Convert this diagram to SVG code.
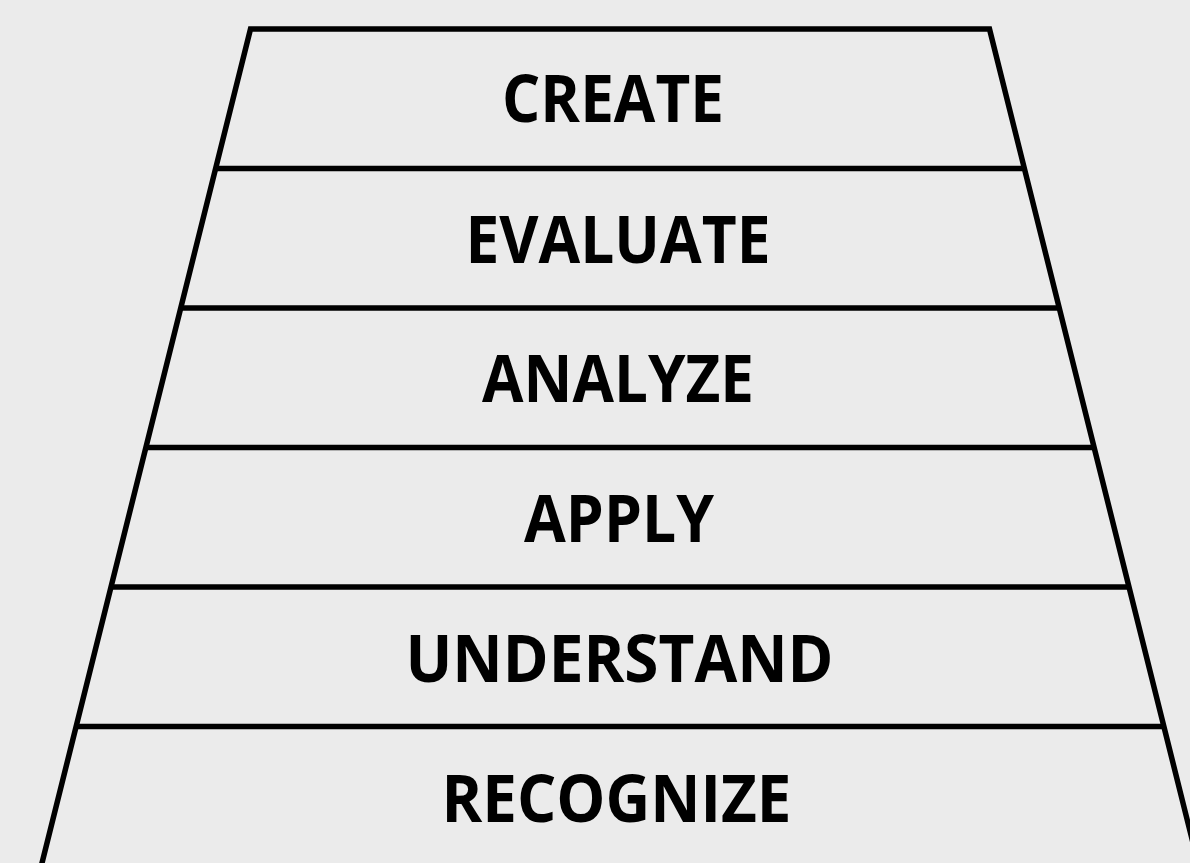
<svg xmlns="http://www.w3.org/2000/svg" width="1190" height="863" viewBox="0 0 1190 863">
  <style>
    .edge { stroke: #000000; stroke-width: 5.5; fill: none; stroke-linejoin: miter; }
    .bar { stroke: #000000; stroke-width: 5.5; }
    .lbl { font-family: "Open Sans", "Liberation Sans", sans-serif; font-weight: bold; font-size: 67px; fill: #000000; text-anchor: middle; }
  </style>
  <rect x="0" y="0" width="1190" height="863" fill="#ebebeb"/>
  <g id="outline">
    <path class="edge" d="M 37.75 880 L 250.5 29 L 989.5 29 L 1202.25 880"/>
  </g>
  <g id="dividers">
    <line class="bar" x1="215.6" y1="168.5" x2="1024.4" y2="168.5"/>
    <line class="bar" x1="180.75" y1="308" x2="1059.25" y2="308"/>
    <line class="bar" x1="145.9" y1="447.5" x2="1094.1" y2="447.5"/>
    <line class="bar" x1="111" y1="587" x2="1129" y2="587"/>
    <line class="bar" x1="76.1" y1="726.5" x2="1163.9" y2="726.5"/>
  </g>
  <g id="create">
    <text class="lbl" x="613" y="122" textLength="222" lengthAdjust="spacingAndGlyphs">CREATE</text>
  </g>
  <g id="evaluate">
    <text class="lbl" x="618" y="263" textLength="305" lengthAdjust="spacingAndGlyphs">EVALUATE</text>
  </g>
  <g id="analyze">
    <text class="lbl" x="618" y="402" textLength="272" lengthAdjust="spacingAndGlyphs">ANALYZE</text>
  </g>
  <g id="apply">
    <text class="lbl" x="619" y="542" textLength="190" lengthAdjust="spacingAndGlyphs">APPLY</text>
  </g>
  <g id="understand">
    <text class="lbl" x="619.5" y="682" textLength="428" lengthAdjust="spacingAndGlyphs">UNDERSTAND</text>
  </g>
  <g id="recognize">
    <text class="lbl" x="616.5" y="822" textLength="350" lengthAdjust="spacingAndGlyphs">RECOGNIZE</text>
  </g>
</svg>
